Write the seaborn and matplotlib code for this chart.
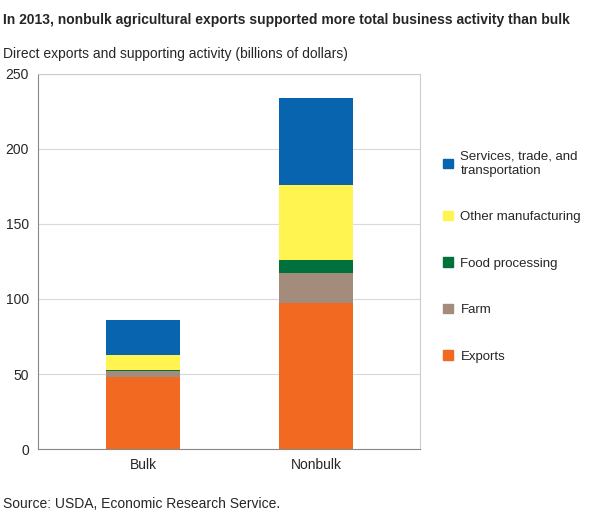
import numpy as np
import pandas as pd
import seaborn as sns
import matplotlib.pyplot as plt
from matplotlib.patches import Patch

categories = ['Bulk', 'Nonbulk']
series = ['Exports', 'Farm', 'Food processing', 'Other manufacturing',
          'Services, trade, and\ntransportation']
exports = [48, 97]
farm = [4, 20]
food = [1, 9]
other_mfg = [10, 50]
services = [23, 58]
colors = ['#F26A21', '#A38C7B', '#00703C', '#FFF450', '#0864AE']

sns.set_style('white')
plt.rcParams['font.family'] = ['Liberation Sans', 'DejaVu Sans']

fig = plt.figure(figsize=(5.91, 5.24), dpi=100)
ax = fig.add_axes([0.064, 0.143, 0.647, 0.716])

values = np.array([exports, farm, food, other_mfg, services], dtype=float)
cum = values.cumsum(axis=0)
# draw from tallest stack down so each layer overlays the previous
for i in range(len(series) - 1, -1, -1):
    df = pd.DataFrame({'cat': categories, 'val': cum[i]})
    sns.barplot(data=df, x='cat', y='val', color=colors[i], width=0.43,
                saturation=1, ax=ax, zorder=3, linewidth=0, edgecolor='none')

ax.set_xlim(-0.607, 1.601)
ax.set_ylim(0, 250)
ax.set_yticks([0, 50, 100, 150, 200, 250])
ax.grid(axis='y', color='#d9d9d9', lw=0.8, zorder=0)
for s in ax.spines.values():
    s.set_color('#cccccc')
ax.spines['left'].set_color('#888888')
ax.spines['bottom'].set_color('#888888')
ax.set_xlabel('')
ax.set_ylabel('')
ax.tick_params(labelsize=10, length=3, color='#888888')

handles = [Patch(color=c) for c in colors][::-1]
labels = series[::-1]
fig.legend(handles, labels, loc='upper left', bbox_to_anchor=(0.73, 0.735),
           frameon=False, fontsize=9.5, handlelength=0.7, handleheight=0.7,
           labelspacing=2.6, handletextpad=0.6)

fig.text(0.005, 0.975, 'In 2013, nonbulk agricultural exports supported more total business activity than bulk',
         fontsize=10, fontweight='bold', va='top')
fig.text(0.005, 0.91, 'Direct exports and supporting activity (billions of dollars)',
         fontsize=10, va='top')
fig.text(0.005, 0.03, 'Source: USDA, Economic Research Service.', fontsize=10)

fig.savefig('out.png', dpi=100)
